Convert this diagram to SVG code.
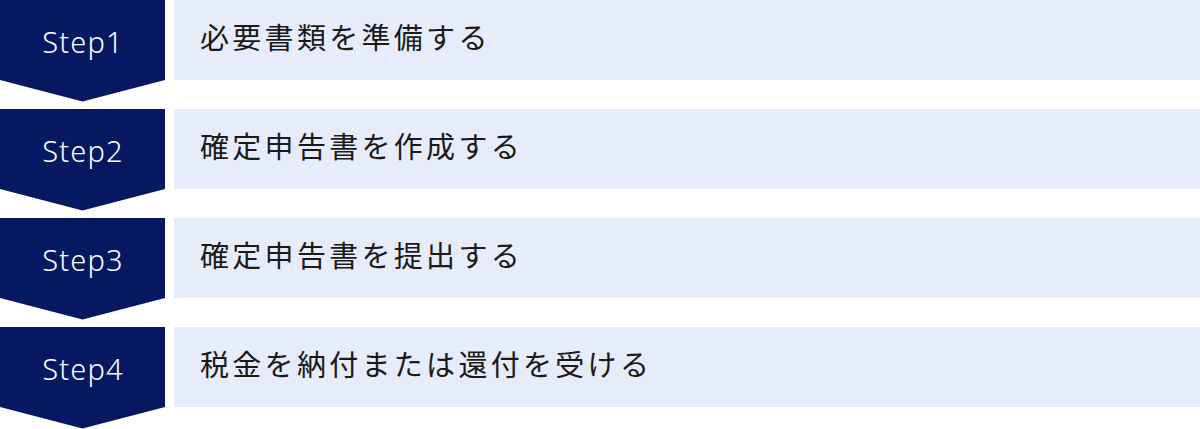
<svg xmlns="http://www.w3.org/2000/svg" width="1200" height="429" viewBox="0 0 1200 429">
<style>
.chev{fill:#061862}
.box{fill:#E6ECF9}
.st{font-family:"Noto Sans","Noto Sans CJK JP",sans-serif;font-size:29px;font-weight:300;fill:#ffffff;text-anchor:middle;letter-spacing:1.2px}
.lb{font-family:"Noto Sans CJK JP","Noto Sans",sans-serif;font-size:29px;fill:#1a1a1a;letter-spacing:3.3px}
</style>
<defs>
<path id="ch" d="M0 0H165V80L82.5 101.5L0 80Z"/>
</defs>
<g id="step1" transform="translate(0,0)">
<use href="#ch" class="chev"/>
<rect class="box" x="174" y="0" width="1026" height="80"/>
<text class="st" x="83" y="53">Step1</text>
<text class="lb" x="200" y="49">必要書類を準備する</text>
</g>
<g id="step2" transform="translate(0,109)">
<use href="#ch" class="chev"/>
<rect class="box" x="174" y="0" width="1026" height="80"/>
<text class="st" x="83" y="53">Step2</text>
<text class="lb" x="200" y="49">確定申告書を作成する</text>
</g>
<g id="step3" transform="translate(0,218)">
<use href="#ch" class="chev"/>
<rect class="box" x="174" y="0" width="1026" height="80"/>
<text class="st" x="83" y="53">Step3</text>
<text class="lb" x="200" y="49">確定申告書を提出する</text>
</g>
<g id="step4" transform="translate(0,327)">
<use href="#ch" class="chev"/>
<rect class="box" x="174" y="0" width="1026" height="80"/>
<text class="st" x="83" y="53">Step4</text>
<text class="lb" x="200" y="49">税金を納付または還付を受ける</text>
</g>
<g id="connectors"></g>
</svg>
